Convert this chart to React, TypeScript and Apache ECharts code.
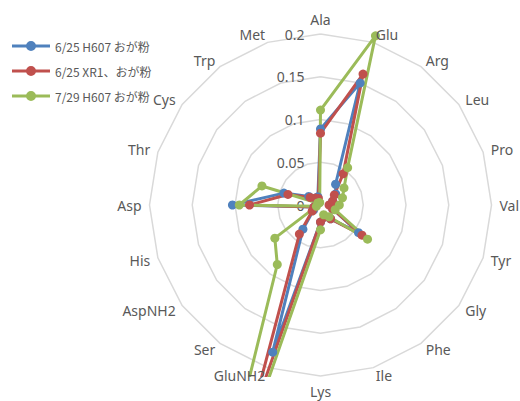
import React, { useEffect, useRef } from "react";
import * as echarts from "echarts";

// Axes in clockwise order starting from the top
const axisNames = [
  "Ala", "Glu", "Arg", "Leu", "Pro", "Val", "Tyr", "Gly", "Phe", "Ile",
  "Lys", "GluNH2", "Ser", "AspNH2", "His", "Asp", "Thr", "Cys", "Trp", "Met",
];

const seriesNames = ["6/25 H607 おが粉", "6/25 XR1、おが粉", "7/29 H607 おが粉"];

const h607June = [
  0.089, 0.150, 0.030, 0.022, 0.015, 0.012, 0.015, 0.055, 0.020, 0.015,
  0.020, 0.181, 0.035, 0.010, 0.008, 0.103, 0.045, 0.017, 0.010, 0.010,
];
const xr1June = [
  0.084, 0.161, 0.045, 0.020, 0.015, 0.010, 0.015, 0.060, 0.020, 0.015,
  0.020, 0.270, 0.042, 0.012, 0.008, 0.083, 0.040, 0.015, 0.010, 0.008,
];
const h607July = [
  0.111, 0.208, 0.054, 0.034, 0.027, 0.022, 0.018, 0.068, 0.017, 0.012,
  0.029, 0.450, 0.086, 0.066, 0.005, 0.095, 0.072, 0.004, 0.003, 0.003,
];

// visible scale: 0 .. 0.2 step 0.05
const axisMin = 0;
const axisMax = 0.2;
const tickStep = 0.05;
// values run past the outer ring and are clipped by the plot area
const plotMax = 0.5;

const colors = ["#4F81BD", "#C0504D", "#9BBB59"];

const FONT = "Noto Sans";
const CJK = "Noto Sans CJK JP";

// ECharts lays radar indicators counter-clockwise; reorder to get clockwise.
const order = [0, ...axisNames.map((_, i) => i).slice(1).reverse()];

const legendIcon =
  "path://M0,3.5 H38 V6.5 H0 Z M14,5 A5,5 0 1,1 24,5 A5,5 0 1,1 14,5 Z";

export default function App() {
  const ref = useRef<HTMLDivElement>(null);

  useEffect(() => {
    if (!ref.current) return;
    const chart = echarts.init(ref.current, undefined, { renderer: "svg" });
    const center = [320.5, 205];
    const radius = 171;
    const plotRadius = (radius * plotMax) / axisMax;
    const plotSplits = Math.round((plotMax - axisMin) / tickStep);
    const visibleSplits = Math.round((axisMax - axisMin) / tickStep);

    const ringColors: string[] = [];
    for (let i = 0; i <= plotSplits; i++) {
      ringColors.push(i <= visibleSplits ? "#D9D9D9" : "rgba(0,0,0,0)");
    }

    const allValues = [h607June, xr1June, h607July];

    const option: any = {
      animation: false,
      backgroundColor: "#ffffff",
      legend: {
        orient: "vertical",
        left: 7,
        top: 35,
        itemWidth: 38,
        itemHeight: 10,
        itemGap: 13,
        selectedMode: false,
        textStyle: { fontSize: 12, color: "#595959", fontFamily: CJK },
        data: seriesNames.map((n) => ({ name: n, icon: legendIcon })),
      },
      radar: [
        {
          center,
          radius: plotRadius,
          startAngle: 90,
          splitNumber: plotSplits,
          shape: "polygon",
          z: 0,
          axisName: { show: false },
          indicator: order.map((i, k) => {
            const ind: any = { name: axisNames[i], min: axisMin, max: plotMax };
            if (k === 0) {
              ind.axisLabel = {
                show: true,
                margin: 16,
                color: "#595959",
                fontSize: 14,
                fontFamily: FONT,
                formatter: (v: number) =>
                  v <= axisMax + 1e-9 ? String(Number(v.toFixed(4))) : "",
              };
            }
            return ind;
          }),
          axisLine: { show: false },
          axisTick: { show: false },
          splitArea: { show: false },
          splitLine: { lineStyle: { color: ringColors, width: 1.5 } },
        },
        {
          center,
          radius,
          startAngle: 90,
          splitNumber: visibleSplits,
          shape: "polygon",
          z: 10,
          nameGap: 8,
          axisName: { show: true, color: "#595959", fontSize: 14, fontFamily: FONT },
          indicator: order.map((i) => ({ name: axisNames[i], min: axisMin, max: axisMax })),
          axisLine: { show: false },
          axisTick: { show: false },
          axisLabel: { show: false },
          splitArea: { show: false },
          splitLine: { show: false },
        },
      ],
      graphic: [
        {
          type: "rect",
          z: 5,
          shape: { x: 0, y: 377, width: 520, height: 40 },
          style: { fill: "#ffffff" },
        },
      ],
      series: allValues.map((vals, s) => ({
        type: "radar",
        radarIndex: 0,
        z: 2,
        symbol: "circle",
        symbolSize: 9,
        lineStyle: { width: 3, color: colors[s] },
        itemStyle: { color: colors[s] },
        data: [{ name: seriesNames[s], value: order.map((i) => vals[i]) }],
      })),
    };

    chart.setOption(option);
    return () => chart.dispose();
  }, []);

  return (
    <div
      ref={ref}
      style={{ position: "fixed", left: 0, top: 0, width: 520, height: 401 }}
    />
  );
}
